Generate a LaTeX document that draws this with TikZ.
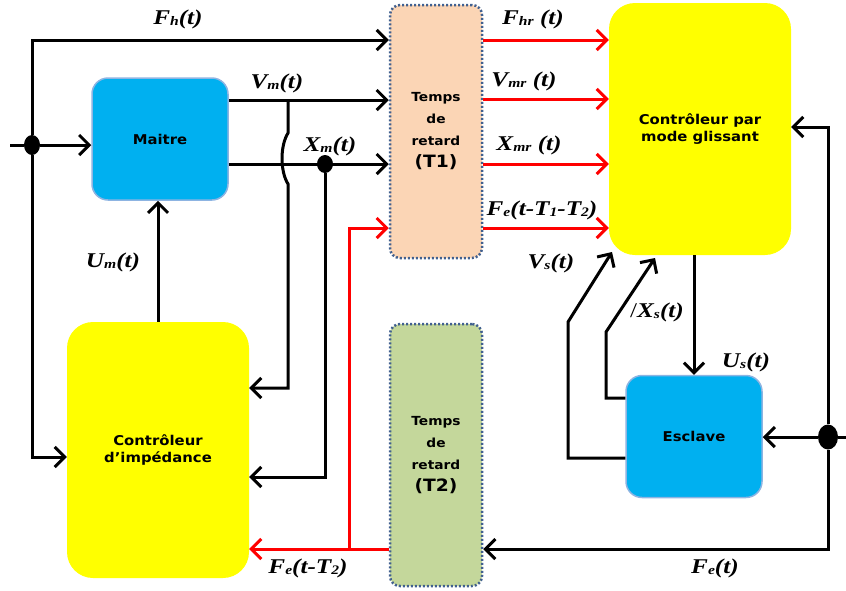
\documentclass[tikz,border=0pt]{standalone}
\usepackage{fontspec}
\usetikzlibrary{arrows.meta,shapes.geometric}
\newfontfamily\lblfont[FakeStretch=1.2]{Liberation Serif}
\newfontfamily\boxfont[FakeStretch=1.1]{DejaVu Sans}
\newcommand{\lsub}[1]{\raisebox{-1pt}{\fontsize{13}{13}\selectfont #1}}
\definecolor{maitreblue}{HTML}{00B0F0}
\definecolor{maitreedge}{HTML}{8DB4E2}
\definecolor{ctrlyellow}{HTML}{FFFF00}
\definecolor{delaypeach}{HTML}{FBD5B5}
\definecolor{delaygreen}{HTML}{C4D79B}
\definecolor{delayedge}{HTML}{41608F}
\begin{document}
\begin{tikzpicture}[x=1pt,y=-1pt,
    wire/.style={line width=3pt},
    arr/.style={wire,-{Straight Barb[length=10pt,width=20pt]}},
    redarr/.style={arr,draw=red},
    block/.style={inner sep=0pt,align=center,font=\boxfont\bfseries\fontsize{13.5}{17}\selectfont},
    plant/.style={block,rounded corners=16pt,fill=maitreblue,draw=maitreedge,line width=1.5pt,minimum width=136pt,minimum height=122pt},
    ctrl/.style={block,rounded corners=26pt,fill=ctrlyellow,minimum width=182pt},
    delay/.style={block,rounded corners=10pt,draw=delayedge,line width=2.5pt,dash pattern=on 2pt off 2pt,minimum width=92pt,font=\boxfont\bfseries\fontsize{12.5}{22}\selectfont},
    jdot/.style={ellipse,fill=black,inner sep=0pt},
    lbl/.style={inner sep=0pt,font=\lblfont\bfseries\itshape\fontsize{21}{22}\selectfont}]
    \useasboundingbox (0,0) rectangle (846,590);

    % blocks
    \node[plant] (maitre) at (160,139) {Maitre};
    \node[plant] (esclave) at (694,436.5) {Esclave};
    \node[ctrl,minimum height=252pt] (glissant) at (700,129) {Contrôleur par\\mode glissant};
    \node[ctrl,minimum height=256pt] (impedance) at (158,450) {Contrôleur\\d’impédance};
    \node[delay,fill=delaypeach,minimum height=253pt] (retardA) at (436,131.5) {Temps\\de\\retard\\{\fontsize{17}{22}\selectfont(T1)}};
    \node[delay,fill=delaygreen,minimum height=262pt] (retardB) at (436,455) {Temps\\de\\retard\\{\fontsize{17}{22}\selectfont(T2)}};

    % junctions and free ends
    \node[jdot,minimum width=16pt,minimum height=20pt] (jin) at (32,145) {};
    \node[jdot,minimum width=16pt,minimum height=18pt] (xdot) at (325,164) {};
    \node[jdot,minimum width=20pt,minimum height=25pt] (fdot) at (828,437) {};
    \coordinate (inL) at (10,145);
    \coordinate (inR) at (846,437);
    \coordinate (vtap) at (288,100);
    \coordinate (rjoin) at (349,549);

    % master side
    \draw[wire] (inL) -- (jin);
    \draw[arr] (jin) -- (jin -| maitre.west);
    \draw[arr] (jin) |- (retardA.west |- 0,40);
    \draw[arr] (jin) |- (impedance.west |- 0,457);
    \draw[arr] (maitre.east |- 0,100) -- (retardA.west |- 0,100);
    \draw[arr] (maitre.east |- 0,164) -- (retardA.west |- 0,164);
    \draw[arr] (vtap) -- (288,133) .. controls (280,146) and (280,171) .. (288,184) -- (288,388) -- (impedance.east |- 0,388);
    \draw[arr] (xdot) |- (impedance.east |- 0,477);
    \draw[arr] (impedance.north) -- (impedance.north |- maitre.south);
    \draw[redarr] (retardB.west |- 0,549) -- (impedance.east |- 0,549);
    \draw[redarr] (rjoin) |- (retardA.west |- 0,228);

    % delayed signals
    \foreach \y in {40,99,164,228}
        \draw[redarr] (retardA.east |- 0,\y) -- (glissant.west |- 0,\y);

    % slave side
    \draw[wire] (inR) -- (fdot);
    \draw[arr] (fdot) -- (esclave.east |- fdot);
    \draw[arr] (fdot) |- (glissant.east |- 0,127);
    \draw[arr] (fdot) |- (retardB.east |- 0,549);
    \draw[arr] (esclave.north |- glissant.south) -- (esclave.north);
    \draw[arr] (esclave.west |- 0,458) -- (568,458) -- (568,322) -- (612,252);
    \draw[arr] (esclave.west |- 0,398) -- (606,398) -- (606,332) -- (655,258);

    % labels
    \node[lbl] (lFh) at (178,19) {F\lsub{h}(t)};
    \node[lbl] (lVm) at (277,83) {V\lsub{m}(t)};
    \node[lbl] (lXm) at (330,146) {X\lsub{m}(t)};
    \node[lbl] (lUm) at (113,262) {U\lsub{m}(t)};
    \node[lbl] (lFeT) at (308,568) {F\lsub{e}(t-T\lsub{2})};
    \node[lbl] (lFhr) at (533,19) {F\lsub{hr} (t)};
    \node[lbl] (lVmr) at (524,81) {V\lsub{mr} (t)};
    \node[lbl] (lXmr) at (529,145) {X\lsub{mr} (t)};
    \node[lbl] (lFeTT) at (542,210) {F\lsub{e}(t-T\lsub{1}-T\lsub{2})};
    \node[lbl] (lVs) at (551,263) {V\lsub{s}(t)};
    \node[lbl] (lXs) at (657,312) {{\upshape\mdseries/}X\lsub{s}(t)};
    \node[lbl] (lUs) at (746,362) {U\lsub{s}(t)};
    \node[lbl] (lFe) at (715,568) {F\lsub{e}(t)};
\end{tikzpicture}
\end{document}
